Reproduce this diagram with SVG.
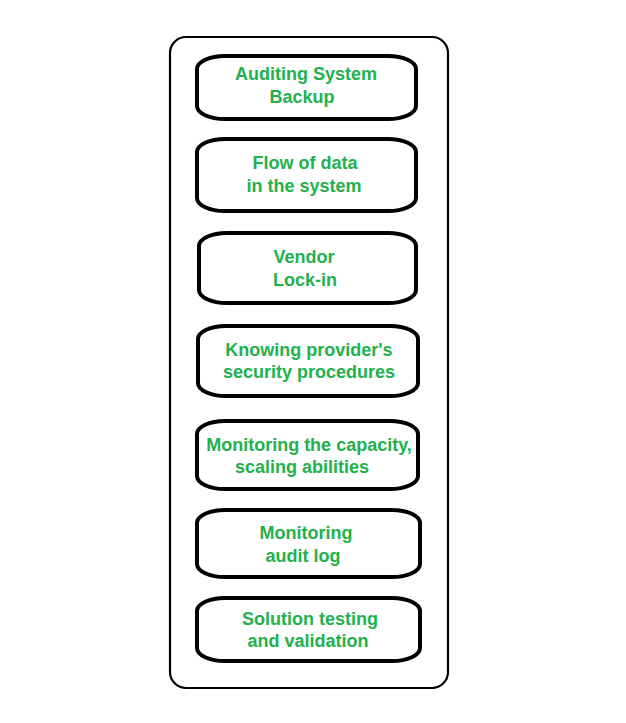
<svg xmlns="http://www.w3.org/2000/svg" width="626" height="723" viewBox="0 0 626 723">
<style>
.outer{fill:#fff;stroke:#000;stroke-width:2.2}
.box{fill:#fff;stroke:#000;stroke-width:4}
.t{font-family:"Liberation Sans",Arial,sans-serif;font-weight:bold;font-size:18px;fill:#22b14c;text-anchor:middle}
</style>
<rect width="626" height="723" fill="#fff"/>
<rect class="outer" x="170" y="37" width="278" height="651" rx="16" ry="16"/>
<g id="n1"><rect class="box" x="197" y="56" width="219" height="63" rx="28" ry="13"/><text class="t" x="306" y="80">Auditing System</text><text class="t" x="302" y="103">Backup</text></g>
<g id="n2"><rect class="box" x="197" y="139" width="219" height="72" rx="28" ry="13"/><text class="t" x="305" y="169">Flow of data</text><text class="t" x="304" y="192">in the system</text></g>
<g id="n3"><rect class="box" x="199" y="233" width="217" height="70" rx="28" ry="13"/><text class="t" x="304" y="263">Vendor</text><text class="t" x="305" y="286">Lock-in</text></g>
<g id="n4"><rect class="box" x="198" y="326" width="220" height="70" rx="28" ry="13"/><text class="t" x="309" y="356">Knowing provider's</text><text class="t" x="309" y="378">security procedures</text></g>
<g id="n5"><rect class="box" x="197" y="421" width="221" height="68" rx="28" ry="13"/><text class="t" x="309" y="451">Monitoring the capacity,</text><text class="t" x="302" y="473">scaling abilities</text></g>
<g id="n6"><rect class="box" x="197" y="510" width="223" height="67" rx="28" ry="13"/><text class="t" x="306" y="539">Monitoring</text><text class="t" x="303" y="562">audit log</text></g>
<g id="n7"><rect class="box" x="197" y="598" width="223" height="63" rx="28" ry="13"/><text class="t" x="310" y="625">Solution testing</text><text class="t" x="308" y="647">and validation</text></g>
<g id="connectors"></g>
</svg>
